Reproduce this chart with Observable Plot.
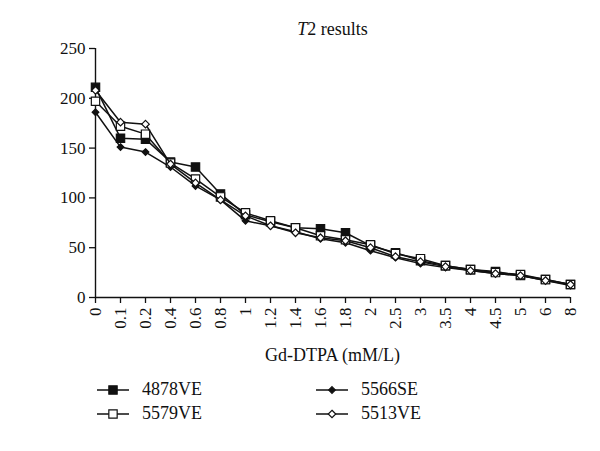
<!DOCTYPE html>
<html>
<head>
<meta charset="utf-8">
<script src="https://cdn.jsdelivr.net/npm/d3@7"></script>
<script src="https://cdn.jsdelivr.net/npm/@observablehq/plot@0.6"></script>
<style>
  html, body { margin: 0; padding: 0; background: #fff; }
  #wrap { position: relative; width: 600px; height: 451px; font-family: "Liberation Serif", "DejaVu Serif", serif; color: #111; }
  #title { position: absolute; left: 95px; width: 475px; top: 19px; text-align: center; font-size: 18px; }
  #ylabel { position: absolute; left: 37px; top: 172px; transform: translate(-50%, -50%) rotate(-90deg); font-size: 18px; white-space: nowrap; }
  #xlabel { position: absolute; left: 95px; width: 475px; top: 345px; text-align: center; font-size: 18px; }
  #chart { position: absolute; left: 0; top: 40px; }
  #legend { position: absolute; left: 0; top: 379px; width: 600px; font-size: 18px; }
  .item { position: absolute; display: flex; align-items: center; white-space: nowrap; }
  .item svg { margin-right: 13px; }
</style>
</head>
<body>
<div id="wrap">
  <div id="title"><i>T</i>2 results</div>
  <div id="ylabel"><i>T</i>2 (ms)</div>
  <div id="chart"></div>
  <div id="xlabel">Gd-DTPA (mM/L)</div>
  <div id="legend"></div>
</div>
<script>
const categories = ["0","0.1","0.2","0.4","0.6","0.8","1","1.2","1.4","1.6","1.8","2","2.5","3","3.5","4","4.5","5","6","8"];
const yTicks = [0, 50, 100, 150, 200, 250];
const seriesNames = ["4878VE", "5566SE", "5579VE", "5513VE"];
const s4878VE = [211,160,159,136,131,104,83,76,70,69,65,52,45,37,32,28,26,22,18,13];
const s5566SE = [186,151,146,131,112,98,77,72,66,59,55,47,40,34,30,27,24,22,17,12];
const s5579VE = [197,172,164,135,119,101,85,77,70,62,58,53,44,39,32,28,25,23,18,13];
const s5513VE = [208,176,174,134,115,98,82,72,65,60,57,50,41,36,31,27,24,22,17,13];

const values = {"4878VE": s4878VE, "5566SE": s5566SE, "5579VE": s5579VE, "5513VE": s5513VE};
const markers = {
  "4878VE": {symbol: "square", fill: "#111", r: 4.7},
  "5566SE": {symbol: "diamond2", fill: "#111", r: 3.0},
  "5579VE": {symbol: "square", fill: "#fff", r: 4.7},
  "5513VE": {symbol: "diamond2", fill: "#fff", r: 3.4}
};

const marks = [];
for (const name of seriesNames) {
  const data = categories.map((c, i) => ({x: c, y: values[name][i]}));
  marks.push(Plot.line(data, {x: "x", y: "y", stroke: "#111", strokeWidth: 1.5}));
  marks.push(Plot.dot(data, {x: "x", y: "y", symbol: () => markers[name].symbol, fill: markers[name].fill, stroke: "#111", strokeWidth: 1.2, r: markers[name].r}));
}

const chart = Plot.plot({
  width: 600,
  height: 330,
  marginTop: 8,
  marginBottom: 73,
  marginLeft: 95,
  marginRight: 30,
  style: {fontFamily: "Liberation Serif, DejaVu Serif, serif", fontSize: "17px", color: "#111", background: "#fff"},
  x: {type: "point", domain: categories, padding: 0, label: null},
  y: {domain: [0, 250], label: null},
  marks: [
    Plot.axisY({ticks: yTicks, tickSize: 6, tickPadding: 4, fontSize: 17, label: null, strokeWidth: 1.3}),
    Plot.axisX({tickRotate: -90, tickSize: 6, tickPadding: 4, fontSize: 17, label: null, strokeWidth: 1.3}),
    Plot.ruleX([categories[0]], {stroke: "#111", strokeWidth: 1.4}),
    Plot.ruleY([0], {stroke: "#111", strokeWidth: 1.4}),
    ...marks
  ]
});
document.getElementById("chart").appendChild(chart);

// Legend
const legend = document.getElementById("legend");
const legendPos = {
  "4878VE": [97, 0], "5566SE": [316, 0],
  "5579VE": [97, 24], "5513VE": [316, 24]
};
for (const name of seriesNames) {
  const m = markers[name];
  const item = document.createElement("div");
  item.className = "item";
  item.style.left = legendPos[name][0] + "px";
  item.style.top = legendPos[name][1] + "px";
  const svg = d3.create("svg").attr("width", 32).attr("height", 14);
  svg.append("line").attr("x1", 0).attr("x2", 32).attr("y1", 7).attr("y2", 7).attr("stroke", "#111").attr("stroke-width", 1.5);
  const sym = m.symbol === "square" ? d3.symbolSquare : d3.symbolDiamond2;
  svg.append("path").attr("transform", "translate(16,7)")
    .attr("d", d3.symbol(sym, Math.PI * m.r * m.r)())
    .attr("fill", m.fill).attr("stroke", "#111").attr("stroke-width", 1.2);
  item.appendChild(svg.node());
  const span = document.createElement("span");
  span.textContent = name;
  item.appendChild(span);
  legend.appendChild(item);
}
</script>
</body>
</html>
